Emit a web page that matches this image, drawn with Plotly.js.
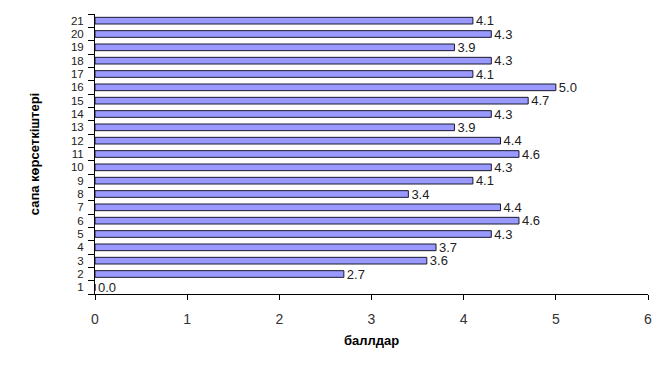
<!DOCTYPE html>
<html>
<head>
<meta charset="utf-8">
<script src="https://cdn.plot.ly/plotly-3.0.1.min.js"></script>
<style>html,body{margin:0;padding:0;background:#fff;}#chart{width:672px;height:367px;}</style>
</head>
<body>
<div id="chart"></div>
<script>
const categories = ["1","2","3","4","5","6","7","8","9","10","11","12","13","14","15","16","17","18","19","20","21"];
const values = [0.0,2.7,3.6,3.7,4.3,4.6,4.4,3.4,4.1,4.3,4.6,4.4,3.9,4.3,4.7,5.0,4.1,4.3,3.9,4.3,4.1];
const xTickVals = [0,1,2,3,4,5,6];
const xTitle = "баллдар";
const yTitle = "сапа көрсеткіштері";

const trace = {
  type: "bar",
  orientation: "h",
  y: categories,
  x: values,
  width: 0.5,
  marker: {color: "#9999FF", line: {color: "#1a1a2e", width: 1}},
  text: values.map(v => v.toFixed(1)),
  textposition: "outside",
  constraintext: "none",
  cliponaxis: false,
  textfont: {family: "Liberation Sans, Arial, sans-serif", size: 13, color: "#222"},
  hoverinfo: "none"
};

const layout = {
  width: 672, height: 367,
  margin: {l: 95, r: 24, t: 14, b: 73},
  paper_bgcolor: "#fff", plot_bgcolor: "#fff",
  showlegend: false,
  font: {family: "Liberation Sans, Arial, sans-serif", color: "#111"},
  xaxis: {
    range: [0, 6], tickmode: "array", tickvals: xTickVals, ticktext: xTickVals.map(String),
    showgrid: false, zeroline: false, showline: true, linecolor: "#000", linewidth: 1,
    ticks: "outside", ticklen: 5, tickcolor: "#000", ticklabelstandoff: 7,
    tickfont: {size: 14, color: "#333"},
    title: {text: xTitle, font: {size: 13, color: "#000", weight: "bold"}, standoff: 10}
  },
  yaxis: {
    type: "category", categoryorder: "array", categoryarray: categories,
    tickmode: "array", tickvals: categories, ticktext: categories,
    range: [-0.5, 20.5],
    showgrid: false, zeroline: false, showline: true, linecolor: "#000", linewidth: 1,
    ticks: "outside", ticklen: 6, tickcolor: "#000", tickson: "boundaries", ticklabelstandoff: 8,
    tickfont: {size: 11.5, color: "#222"},
    title: {text: yTitle, font: {size: 13, color: "#000", weight: "bold"}, standoff: 28}
  }
};

Plotly.newPlot("chart", [trace], layout, {staticPlot: true, displayModeBar: false});
</script>
</body>
</html>
